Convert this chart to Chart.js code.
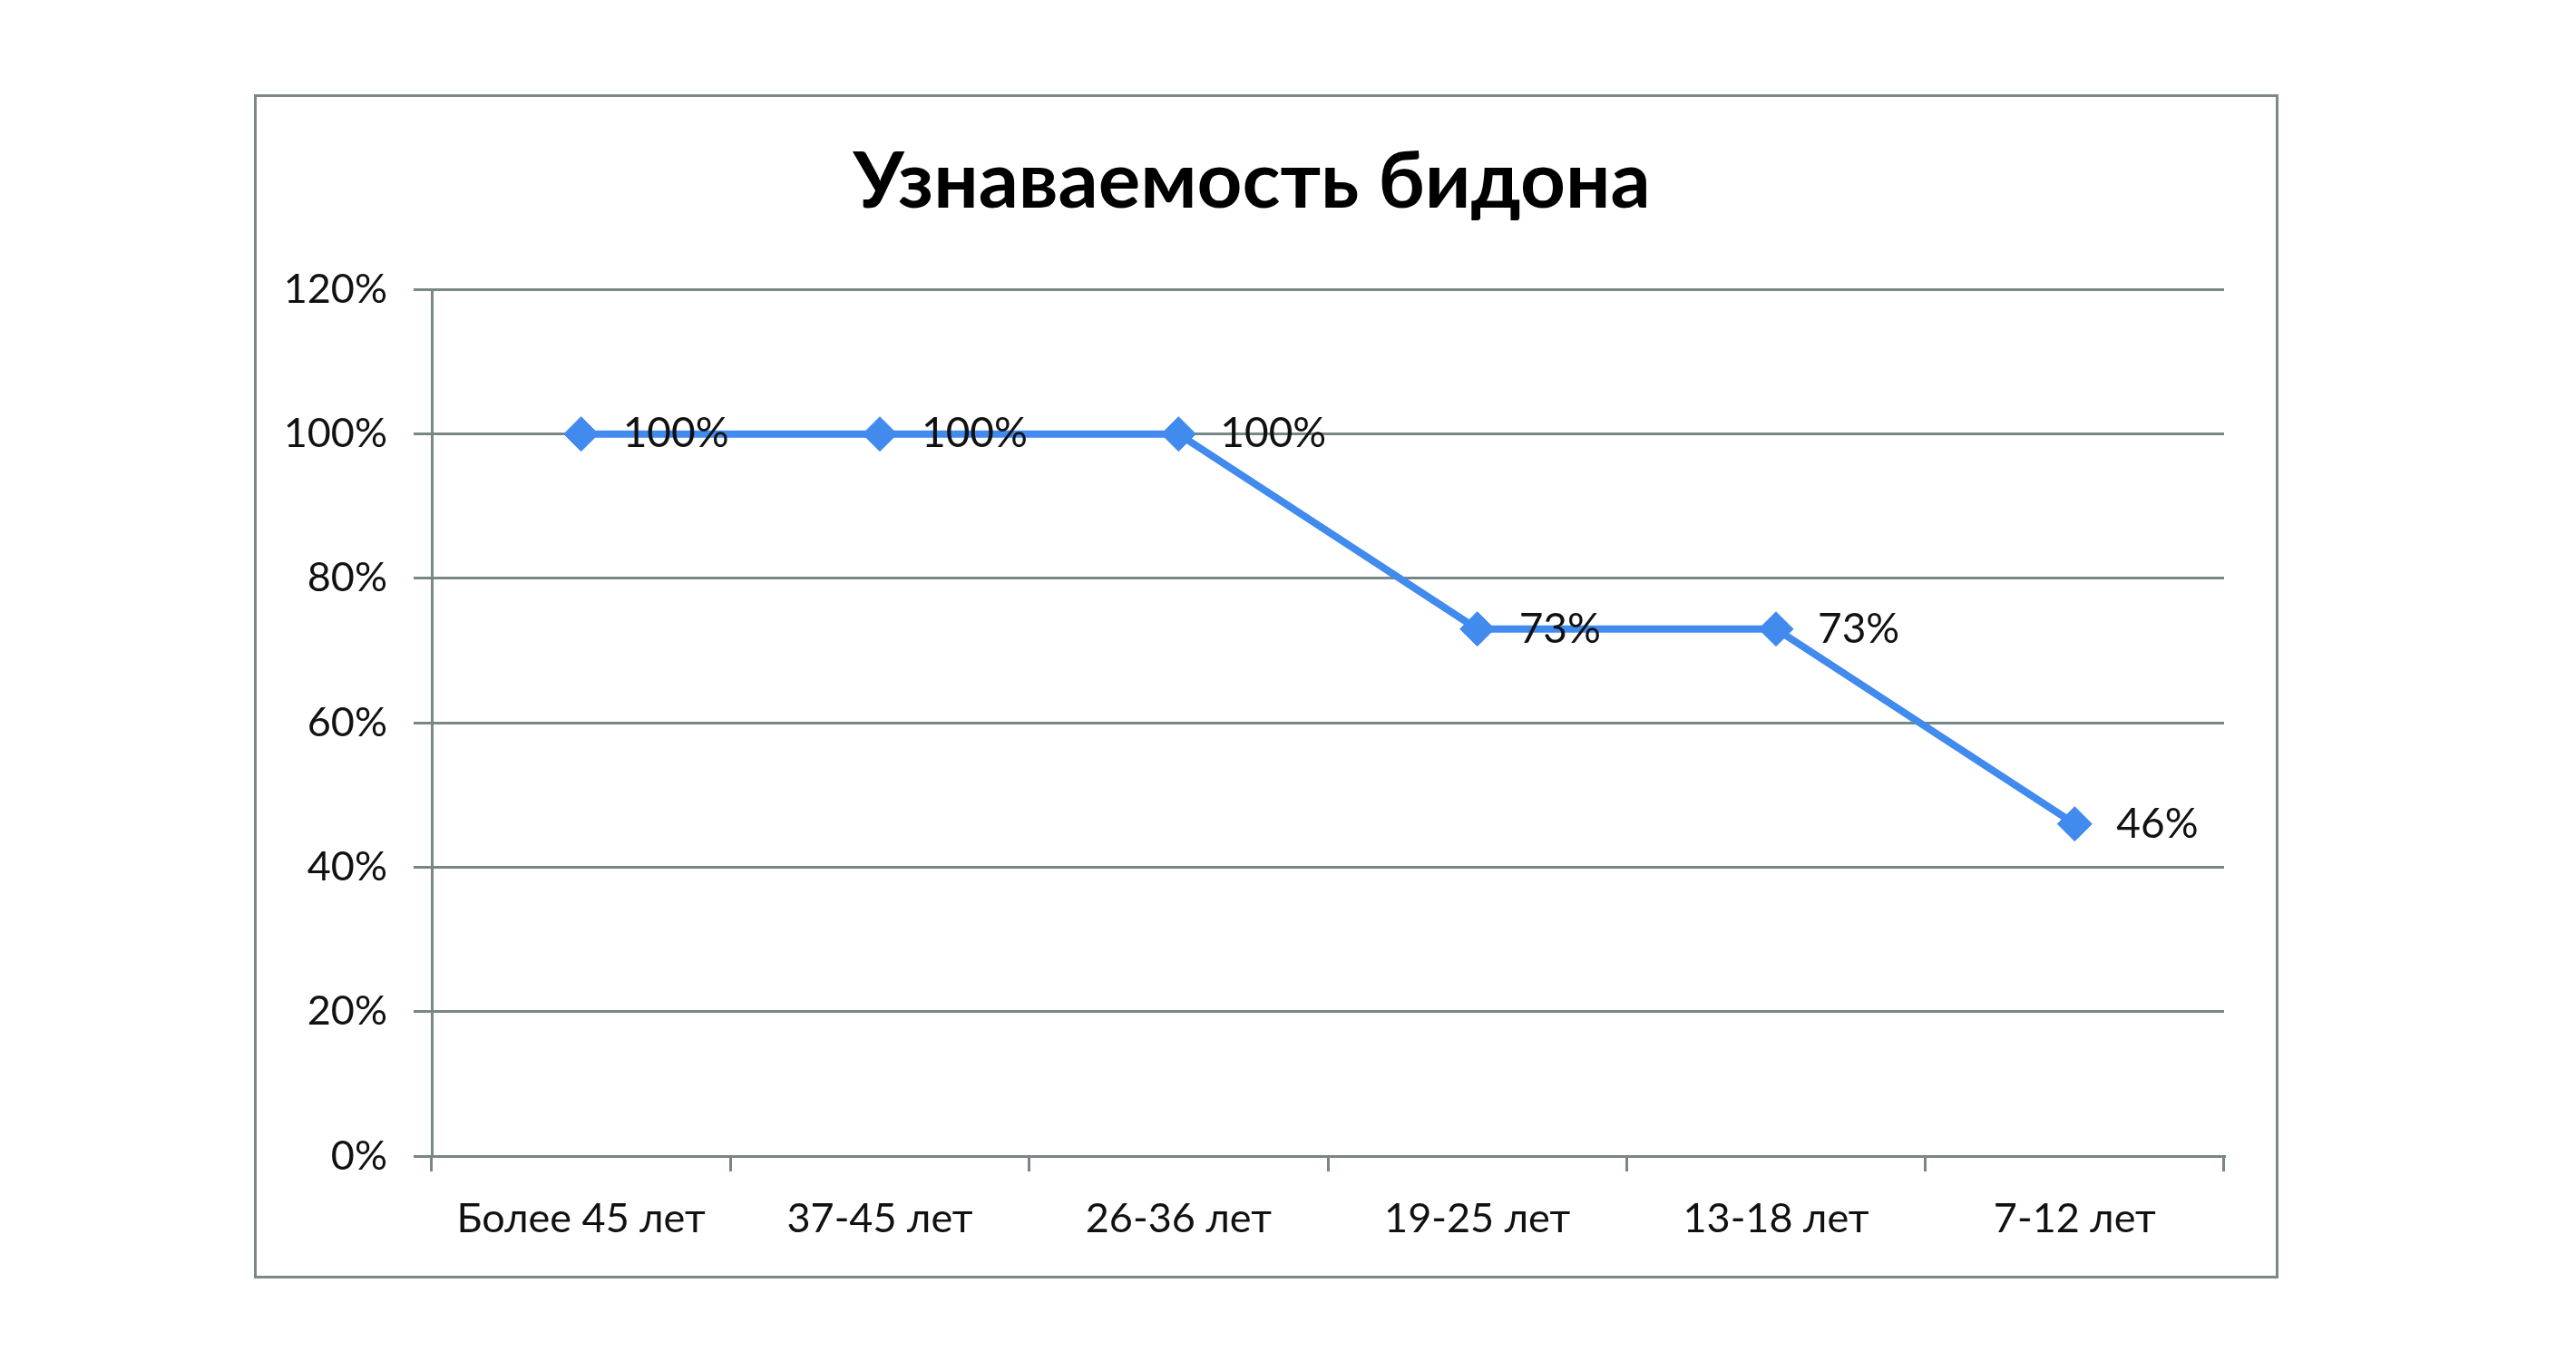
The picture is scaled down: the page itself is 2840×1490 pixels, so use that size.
<!DOCTYPE html>
<html>
<head>
<meta charset="utf-8">
<script src="https://cdn.jsdelivr.net/npm/chart.js@4"></script>
<style>
  body { margin: 0; background: #fff; }
  #frame { position: absolute; left: 280px; top: 104px; width: 2226px; height: 1300px; border: 3px solid #7c8888; }
  #chart { position: absolute; left: 0; top: 0; }
</style>
</head>
<body>
<div id="frame"></div>
<canvas id="chart" width="2840" height="1490"></canvas>
<script>
var categories = ["Более 45 лет", "37-45 лет", "26-36 лет", "19-25 лет", "13-18 лет", "7-12 лет"];
var recognition = [100, 100, 100, 73, 73, 46];
var yTicks = [0, 20, 40, 60, 80, 100, 120];

var FONT = "Lato, 'Open Sans', sans-serif";
var gridColor = "#788686";
var lineColor = "#418aee";

// value labels to the right of each marker
var valueLabels = {
  id: "valueLabels",
  afterDatasetsDraw: function (chart) {
    var ctx = chart.ctx;
    var meta = chart.getDatasetMeta(0);
    ctx.save();
    ctx.font = "46px " + FONT;
    ctx.fillStyle = "#111";
    ctx.textAlign = "left";
    ctx.textBaseline = "middle";
    meta.data.forEach(function (pt, i) {
      ctx.fillText(recognition[i] + "%", pt.x + 46, pt.y);
    });
    ctx.restore();
  },
};

var ctx = document.getElementById("chart").getContext("2d");
var chart = new Chart(ctx, {
  type: "line",
  data: {
    labels: categories,
    datasets: [
      {
        data: recognition,
        borderColor: lineColor,
        backgroundColor: lineColor,
        borderWidth: 8,
        tension: 0,
        pointStyle: "rectRot",
        pointRadius: 19,
        pointBorderWidth: 1,
        pointBorderColor: lineColor,
        pointBackgroundColor: lineColor,
      },
    ],
  },
  options: {
    responsive: false,
    animation: false,
    layout: { padding: { left: 308, right: 388, top: 0, bottom: 105 } },
    plugins: {
      legend: { display: false },
      tooltip: { enabled: false },
      title: {
        display: true,
        text: "Узнаваемость бидона",
        color: "#000",
        font: { family: FONT, size: 87, weight: "bold" },
        padding: { top: 149, bottom: 66 },
      },
    },
    scales: {
      x: {
        offset: true,
        afterFit: function (s) { s.height = 110; },
        grid: { display: true, drawOnChartArea: false, offset: true, tickLength: 17, color: gridColor, lineWidth: 3 },
        border: { display: true, color: gridColor, width: 3 },
        ticks: { color: "#111", padding: 25, maxRotation: 0, font: { family: FONT, size: 45 } },
      },
      y: {
        min: yTicks[0],
        max: yTicks[yTicks.length - 1],
        afterFit: function (s) { s.width = 168; },
        afterBuildTicks: function (s) {
          s.ticks = yTicks.map(function (v) { return { value: v }; });
        },
        grid: { color: gridColor, lineWidth: 3, tickLength: 20 },
        border: { display: true, color: gridColor, width: 3 },
        ticks: {
          color: "#111",
          padding: 29,
          font: { family: FONT, size: 45 },
          callback: function (v) { return v + "%"; },
        },
      },
    },
  },
  plugins: [valueLabels],
});
</script>
</body>
</html>
